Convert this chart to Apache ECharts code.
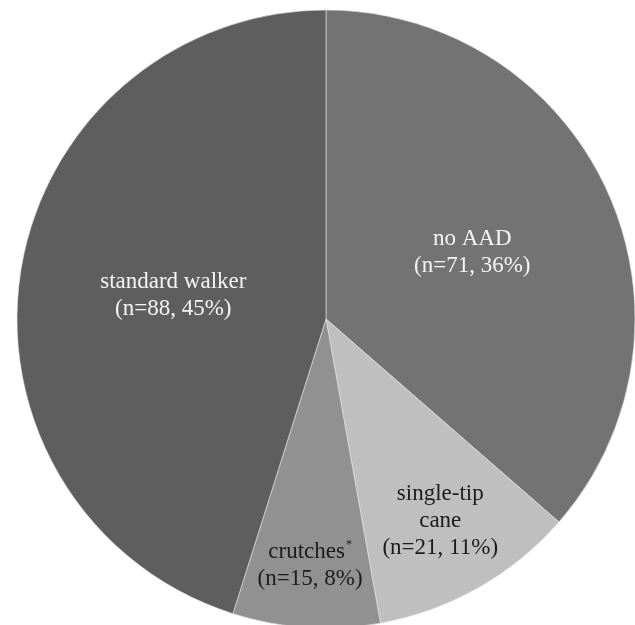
<!DOCTYPE html>
<html>
<head>
<meta charset="utf-8">
<script src="https://cdn.jsdelivr.net/npm/echarts@6/dist/echarts.min.js"></script>
<style>
  html, body { margin: 0; padding: 0; background: #ffffff; }
  #chart { width: 635px; height: 625px; }
</style>
</head>
<body>
<div id="chart"></div>
<script>
// Assistive ambulatory device use, clockwise from 12 o'clock
const categories = ['no AAD', 'single-tip cane', 'crutches', 'standard walker'];
const counts = [71, 21, 15, 88];
const footnoteMarks = ['', '', '*', ''];

// Styling, kept apart from the data
const sliceColors = ['#737373', '#bfbfbf', '#919191', '#5e5e5e'];
const textColors = ['#f4f4f4', '#1c1c1c', '#1c1c1c', '#f4f4f4'];
const labelRadiusRatio = [0.52, 0.75, 0.8, 0.5];
const wrapNames = { 'single-tip cane': 'single-tip\ncane' };
const SERIF = '"Liberation Serif", "Times New Roman", serif';

const total = counts.reduce((a, b) => a + b, 0);
const CX = 326, CY = 319, R = 309;

const chart = echarts.init(document.getElementById('chart'), null, { renderer: 'canvas' });

const seriesData = categories.map((name, i) => ({
  name: name,
  value: counts[i],
  itemStyle: { color: sliceColors[i] },
  label: { color: textColors[i] }
}));

chart.setOption({
  backgroundColor: '#ffffff',
  animation: false,
  series: [{
    type: 'pie',
    center: [CX, CY],
    radius: [0, R],
    startAngle: 90,
    clockwise: true,
    avoidLabelOverlap: false,
    itemStyle: { borderColor: '#e6e6e6', borderWidth: 0.6 },
    emphasis: { disabled: true },
    label: {
      show: true,
      position: 'inside',
      fontFamily: SERIF,
      fontSize: 23,
      lineHeight: 27,
      align: 'center',
      formatter: function (p) {
        const i = p.dataIndex;
        const pct = Math.round(p.value / total * 100);
        const nm = wrapNames[p.name] || p.name;
        const lines = nm.split('\n').map(s => '{t|' + s + '}');
        if (footnoteMarks[i]) {
          lines[lines.length - 1] += '{sup|' + footnoteMarks[i] + '}';
        }
        lines.push('{t|(n=' + p.value + ', ' + pct + '%)}');
        return lines.join('\n');
      },
      rich: {
        t: { fontSize: 23, lineHeight: 27, fontFamily: SERIF },
        sup: { fontSize: 12, lineHeight: 27, verticalAlign: 'top', padding: [0, 0, 10, 1], fontFamily: SERIF }
      }
    },
    labelLine: { show: false },
    labelLayout: function (params) {
      const i = params.dataIndex;
      const r = params.labelRect;
      const lx = r.x + r.width / 2, ly = r.y + r.height / 2;
      const dx = lx - CX, dy = ly - CY;
      const d = Math.sqrt(dx * dx + dy * dy) || 1;
      const target = R * labelRadiusRatio[i];
      return { x: CX + dx / d * target, y: CY + dy / d * target };
    },
    data: seriesData
  }]
});
</script>
</body>
</html>
